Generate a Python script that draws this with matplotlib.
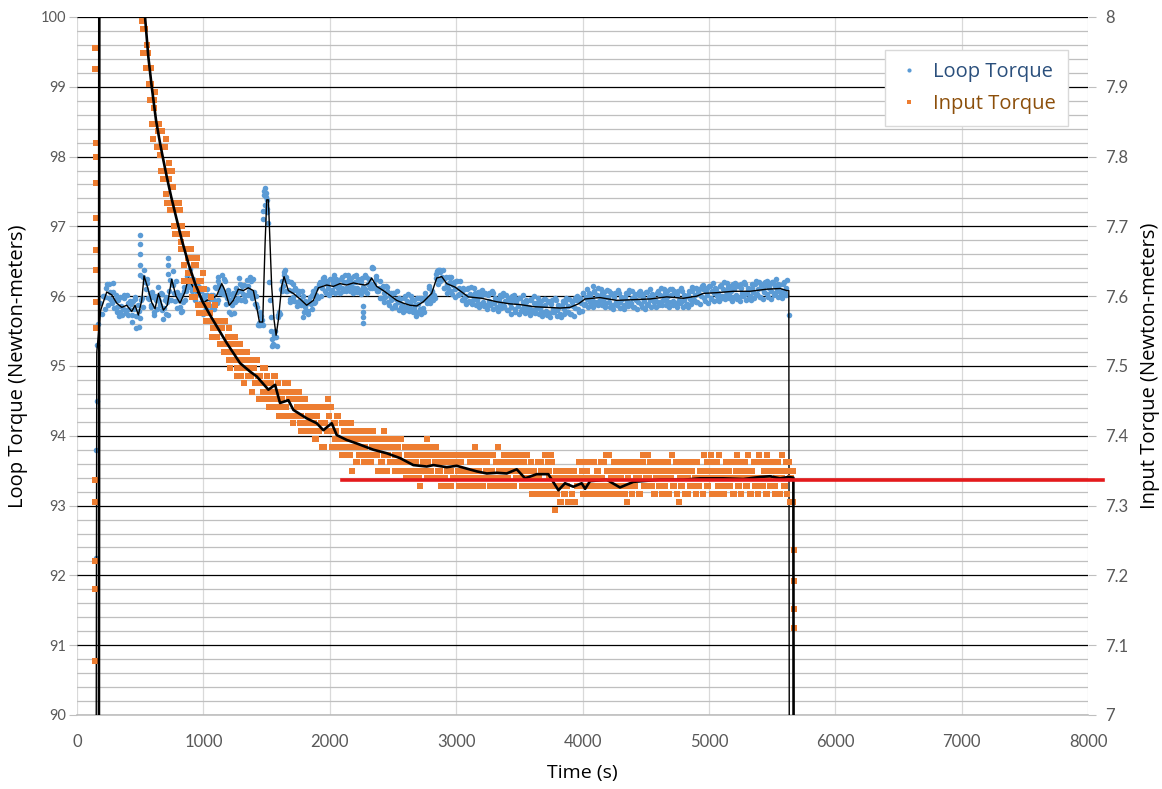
import numpy as np
import matplotlib
matplotlib.use("Agg")
import matplotlib.pyplot as plt
from matplotlib.lines import Line2D
from matplotlib.ticker import MultipleLocator, FuncFormatter
from matplotlib import font_manager

# ---- data --------------------------------------------------------------
# Loop torque samples (N-m, left axis), 12.5 s apart; a second interleaved
# set starts 6.25 s later.
loop_start = 200.0
loop_start2 = 206.25
loop_step = 12.5
loop_vals = [
    95.75, 96.00, 95.99, 96.17, 95.98, 96.06, 95.90, 96.06, 95.95, 95.85,
    95.95, 95.77, 95.86, 95.81, 95.98, 95.76, 95.90, 95.82, 95.89, 95.73,
    95.82, 95.96, 95.71, 95.79, 95.69, 95.97, 96.28, 96.20, 96.19, 95.98,
    96.04, 95.87, 95.99, 95.73, 95.94, 95.96, 95.93, 96.05, 95.80, 95.83,
    95.74, 95.92, 95.95, 96.23, 96.17, 96.16, 95.93, 96.06, 95.94, 95.85,
    96.02, 95.91, 96.07, 96.08, 96.34, 96.13, 96.24, 96.14, 96.20, 96.02,
    96.04, 96.13, 95.90, 95.98, 95.77, 95.94, 96.01, 95.89, 95.96, 95.86,
    96.02, 95.94, 96.12, 95.95, 96.16, 96.13, 96.08, 96.24, 96.02, 95.98,
    95.78, 95.94, 95.88, 96.05, 95.92, 96.06, 95.97, 96.17, 96.08, 96.03,
    96.16, 96.01, 96.14, 96.07, 96.22, 95.98, 96.06, 95.89, 95.84, 95.58,
    95.58, 95.66, 97.22, 97.55, 97.38, 97.05, 95.95, 95.50, 95.32, 95.42,
    95.42, 95.70, 95.77, 96.10, 96.07, 96.31, 96.28, 96.07, 96.09, 95.96,
    96.08, 95.99, 96.11, 95.92, 96.03, 95.94, 95.87, 96.00, 95.85, 95.89,
    95.79, 95.93, 95.89, 96.02, 95.90, 96.02, 95.98, 96.18, 96.14, 96.11,
    96.21, 96.08, 96.17, 96.12, 96.25, 96.06, 96.19, 96.15, 96.24, 96.12,
    96.15, 96.25, 96.11, 96.21, 96.07, 96.20, 96.24, 96.14, 96.19, 96.11,
    96.21, 96.12, 96.25, 96.09, 96.21, 96.13, 96.10, 96.27, 96.17, 96.24,
    96.17, 96.40, 96.18, 96.24, 96.07, 96.12, 95.98, 96.12, 96.05, 95.99,
    96.07, 95.92, 96.00, 95.94, 96.05, 95.85, 95.96, 95.91, 95.98, 95.85,
    95.88, 95.98, 95.84, 95.93, 95.79, 95.90, 95.94, 95.83, 95.87, 95.78,
    95.89, 95.81, 95.97, 95.83, 95.99, 95.95, 95.94, 96.12, 96.00, 96.06,
    96.02, 96.26, 96.25, 96.37, 96.22, 96.27, 96.12, 96.26, 96.18, 96.12,
    96.21, 96.07, 96.16, 96.10, 96.22, 96.01, 96.11, 96.05, 96.11, 95.98,
    96.00, 96.10, 95.93, 96.03, 95.89, 96.00, 96.04, 95.94, 95.99, 95.89,
    96.00, 95.92, 96.05, 95.88, 96.01, 95.93, 95.89, 96.04, 95.90, 95.95,
    95.84, 95.96, 95.90, 96.00, 95.85, 95.93, 95.80, 95.96, 95.90, 95.85,
    95.95, 95.82, 95.91, 95.86, 95.98, 95.79, 95.91, 95.87, 95.95, 95.82,
    95.84, 95.94, 95.80, 95.90, 95.76, 95.88, 95.91, 95.81, 95.86, 95.77,
    95.87, 95.79, 95.93, 95.76, 95.89, 95.82, 95.78, 95.94, 95.80, 95.85,
    95.75, 95.87, 95.81, 95.92, 95.78, 95.86, 95.74, 95.91, 95.86, 95.83,
    95.94, 95.82, 95.93, 95.90, 96.05, 95.87, 95.99, 95.96, 96.04, 95.92,
    95.96, 96.06, 95.92, 96.02, 95.88, 96.00, 96.04, 95.94, 95.99, 95.90,
    95.99, 95.91, 96.04, 95.87, 95.99, 95.92, 95.88, 96.04, 95.91, 95.96,
    95.87, 95.99, 95.93, 96.04, 95.89, 95.97, 95.85, 96.01, 95.95, 95.91,
    96.02, 95.89, 95.98, 95.93, 96.06, 95.87, 95.99, 95.95, 96.03, 95.91,
    95.95, 96.05, 95.91, 96.02, 95.88, 96.00, 96.05, 95.95, 96.00, 95.91,
    96.01, 95.93, 96.07, 95.90, 96.02, 95.95, 95.91, 96.07, 95.94, 95.99,
    95.89, 96.02, 95.96, 96.08, 95.94, 96.02, 95.91, 96.08, 96.03, 96.00,
    96.10, 95.97, 96.07, 96.02, 96.15, 95.96, 96.08, 96.04, 96.12, 96.00,
    96.04, 96.14, 96.00, 96.10, 95.96, 96.08, 96.13, 96.03, 96.08, 95.99,
    96.10, 96.02, 96.16, 95.99, 96.12, 96.05, 96.01, 96.17, 96.04, 96.09,
    96.00, 96.12, 96.06, 96.17, 96.02, 96.10, 95.99, 96.16, 96.10, 96.06,
    96.16, 96.03, 96.12, 96.08, 96.21, 96.02, 96.14, 96.10, 96.18, 96.06,
    96.08, 96.18, 96.04, 96.12,
]
loop_vals2 = [
    96.00, 95.81, 96.11, 95.88, 96.17, 95.95, 96.19, 95.83, 96.01, 95.78,
    95.72, 95.99, 95.73, 96.02, 95.80, 96.02, 95.73, 95.93, 95.63, 95.93,
    95.99, 95.72, 95.88, 95.56, 95.94, 95.85, 96.37, 96.10, 96.24, 95.96,
    95.84, 96.06, 95.77, 96.00, 95.82, 96.13, 95.88, 96.03, 95.67, 95.94,
    95.99, 95.73, 96.07, 95.94, 96.36, 96.05, 96.22, 95.83, 96.00, 95.78,
    95.79, 96.13, 95.94, 96.29, 96.16, 96.39, 96.07, 96.25, 95.94, 96.22,
    96.21, 95.89, 96.07, 95.75, 96.02, 95.82, 96.10, 95.79, 96.01, 95.84,
    95.82, 96.13, 95.90, 96.22, 96.04, 96.30, 96.03, 96.22, 95.89, 96.09,
    96.03, 95.75, 96.00, 95.76, 96.11, 95.95, 96.26, 95.94, 96.14, 95.96,
    95.93, 96.23, 96.01, 96.28, 96.04, 96.24, 95.89, 96.00, 95.58, 95.78,
    95.65, 97.10, 97.50, 97.42, 97.25, 96.20, 95.70, 95.38, 95.30, 95.50,
    95.28, 95.73, 95.74, 96.22, 96.14, 96.38, 96.07, 96.22, 95.91, 96.20,
    96.17, 95.93, 96.09, 95.86, 96.08, 95.89, 96.07, 95.78, 95.93, 95.77,
    95.74, 95.99, 95.82, 96.07, 95.91, 96.12, 95.98, 96.20, 96.00, 96.26,
    96.27, 96.04, 96.22, 96.01, 96.25, 96.09, 96.30, 96.04, 96.21, 96.06,
    96.04, 96.27, 96.08, 96.31, 96.12, 96.30, 96.08, 96.26, 96.04, 96.29,
    96.30, 96.06, 96.23, 96.03, 96.26, 96.08, 96.30, 96.05, 96.25, 96.12,
    96.12, 96.40, 96.11, 96.29, 96.08, 96.22, 95.98, 96.14, 95.91, 96.14,
    96.13, 95.88, 96.05, 95.83, 96.05, 95.87, 96.07, 95.80, 95.96, 95.80,
    95.77, 96.00, 95.80, 96.03, 95.83, 96.00, 95.77, 95.95, 95.72, 95.97,
    95.98, 95.75, 95.95, 95.77, 96.04, 95.90, 96.14, 95.90, 96.08, 95.94,
    95.97, 96.32, 96.18, 96.38, 96.23, 96.37, 96.12, 96.28, 96.04, 96.27,
    96.27, 96.03, 96.21, 95.99, 96.22, 96.03, 96.22, 95.94, 96.09, 95.93,
    95.89, 96.11, 95.91, 96.13, 95.94, 96.11, 95.88, 96.06, 95.84, 96.08,
    96.09, 95.86, 96.03, 95.82, 96.05, 95.88, 96.08, 95.82, 95.98, 95.83,
    95.79, 96.02, 95.83, 96.05, 95.86, 96.02, 95.80, 95.98, 95.75, 96.00,
    96.01, 95.78, 95.96, 95.75, 95.98, 95.81, 96.02, 95.76, 95.92, 95.77,
    95.73, 95.96, 95.77, 96.00, 95.81, 95.97, 95.75, 95.93, 95.71, 95.96,
    95.96, 95.73, 95.91, 95.70, 95.94, 95.77, 95.97, 95.71, 95.88, 95.73,
    95.70, 95.93, 95.74, 95.97, 95.78, 95.96, 95.74, 95.93, 95.72, 95.98,
    96.00, 95.78, 95.98, 95.79, 96.05, 95.89, 96.10, 95.85, 96.02, 95.87,
    95.85, 96.08, 95.89, 96.12, 95.93, 96.10, 95.88, 96.06, 95.84, 96.09,
    96.08, 95.85, 96.03, 95.82, 96.05, 95.88, 96.09, 95.83, 95.99, 95.84,
    95.82, 96.05, 95.86, 96.09, 95.90, 96.07, 95.85, 96.03, 95.81, 96.06,
    96.08, 95.85, 96.03, 95.82, 96.06, 95.89, 96.10, 95.84, 96.01, 95.86,
    95.84, 96.07, 95.88, 96.12, 95.93, 96.10, 95.88, 96.07, 95.85, 96.10,
    96.10, 95.87, 96.05, 95.84, 96.07, 95.90, 96.11, 95.85, 96.02, 95.87,
    95.84, 96.08, 95.89, 96.13, 95.95, 96.12, 95.91, 96.10, 95.89, 96.15,
    96.16, 95.93, 96.11, 95.90, 96.14, 95.98, 96.19, 95.93, 96.10, 95.95,
    95.93, 96.16, 95.97, 96.20, 96.01, 96.19, 95.97, 96.15, 95.93, 96.18,
    96.19, 95.96, 96.14, 95.93, 96.17, 96.00, 96.21, 95.95, 96.12, 95.97,
    95.94, 96.17, 95.98, 96.22, 96.03, 96.21, 95.99, 96.18, 95.96, 96.21,
    96.22, 95.99, 96.17, 95.96, 96.21, 96.04, 96.25, 95.99, 96.16, 96.01,
    95.98, 96.20, 96.01, 96.23,
]
# stray loop samples (start-up ramp, spikes, outliers)
loop_extra_t = [150, 152, 155, 158, 165, 180, 470, 498, 498, 500, 502, 500,
                720, 722, 720, 1117, 1440, 1455, 1468, 1480, 1490, 1495, 1505,
                1545, 1555, 1640, 1790, 2263, 2263, 2265, 2263, 2330, 2845,
                2855, 2870, 4080, 5630]
loop_extra_v = [93.80, 92.25, 94.50, 95.30, 95.60, 95.90, 95.55, 96.30, 96.45,
                96.60, 96.75, 96.88, 96.32, 96.45, 96.55, 96.28, 95.62, 95.72,
                95.58, 97.45, 97.30, 97.48, 97.20, 95.28, 95.45, 96.35, 95.70,
                95.62, 95.70, 95.78, 95.86, 96.42, 96.36, 96.38, 96.35, 96.14,
                95.73]

# Input torque samples (N-m, right axis), 12.5 s apart from t = 525 s,
# plus an interleaved set starting at 531.25 s
input_start = 525.0
input_start2 = 531.25
input_step = 12.5
input_vals = [
    7.949, 7.983, 7.927, 7.949, 7.881, 7.904, 7.825, 7.881, 7.847, 7.814,
    7.847, 7.780, 7.814, 7.780, 7.825, 7.734, 7.768, 7.723, 7.780, 7.723,
    7.689, 7.734, 7.689, 7.723, 7.667, 7.689, 7.622, 7.689, 7.655, 7.622,
    7.667, 7.599, 7.644, 7.610, 7.655, 7.576, 7.610, 7.576, 7.633, 7.576,
    7.565, 7.588, 7.576, 7.599, 7.554, 7.565, 7.542, 7.565, 7.554, 7.531,
    7.554, 7.520, 7.531, 7.520, 7.554, 7.497, 7.531, 7.520, 7.542, 7.497,
    7.508, 7.531, 7.486, 7.508, 7.475, 7.497, 7.508, 7.486, 7.486, 7.463,
    7.497, 7.475, 7.508, 7.452, 7.486, 7.475, 7.463, 7.497, 7.452, 7.463,
    7.441, 7.475, 7.463, 7.486, 7.452, 7.452, 7.429, 7.463, 7.452, 7.441,
    7.463, 7.429, 7.452, 7.429, 7.463, 7.418, 7.452, 7.441, 7.463, 7.418,
    7.429, 7.452, 7.418, 7.441, 7.407, 7.418, 7.429, 7.407, 7.418, 7.396,
    7.429, 7.407, 7.441, 7.384, 7.418, 7.418, 7.407, 7.441, 7.407, 7.407,
    7.384, 7.418, 7.407, 7.429, 7.384, 7.396, 7.373, 7.407, 7.396, 7.384,
    7.407, 7.373, 7.396, 7.384, 7.407, 7.362, 7.396, 7.384, 7.407, 7.373,
    7.384, 7.407, 7.373, 7.396, 7.362, 7.373, 7.396, 7.373, 7.373, 7.350,
    7.384, 7.362, 7.396, 7.350, 7.384, 7.373, 7.362, 7.396, 7.362, 7.373,
    7.350, 7.384, 7.373, 7.396, 7.350, 7.362, 7.339, 7.373, 7.362, 7.350,
    7.373, 7.339, 7.362, 7.350, 7.384, 7.328, 7.373, 7.362, 7.373, 7.350,
    7.362, 7.384, 7.350, 7.373, 7.339, 7.362, 7.373, 7.339, 7.350, 7.328,
    7.362, 7.339, 7.373, 7.328, 7.362, 7.350, 7.339, 7.373, 7.339, 7.350,
    7.328, 7.362, 7.350, 7.373, 7.339, 7.350, 7.328, 7.362, 7.350, 7.339,
    7.362, 7.328, 7.350, 7.339, 7.373, 7.328, 7.362, 7.350, 7.373, 7.339,
    7.350, 7.373, 7.339, 7.362, 7.328, 7.350, 7.362, 7.339, 7.350, 7.328,
    7.362, 7.339, 7.373, 7.328, 7.362, 7.350, 7.339, 7.373, 7.339, 7.350,
    7.328, 7.362, 7.350, 7.373, 7.339, 7.339, 7.316, 7.350, 7.339, 7.328,
    7.362, 7.316, 7.350, 7.328, 7.373, 7.316, 7.362, 7.339, 7.373, 7.328,
    7.328, 7.350, 7.316, 7.339, 7.305, 7.328, 7.339, 7.316, 7.328, 7.305,
    7.339, 7.316, 7.350, 7.305, 7.339, 7.339, 7.328, 7.362, 7.328, 7.339,
    7.316, 7.350, 7.339, 7.362, 7.328, 7.339, 7.316, 7.350, 7.339, 7.328,
    7.339, 7.362, 7.328, 7.373, 7.316, 7.350, 7.339, 7.328, 7.362, 7.316,
    7.350, 7.316, 7.339, 7.328, 7.362, 7.316, 7.350, 7.339, 7.362, 7.328,
    7.350, 7.328, 7.339, 7.362, 7.316, 7.350, 7.373, 7.328, 7.339, 7.350,
    7.339, 7.362, 7.328, 7.350, 7.316, 7.339, 7.350, 7.328, 7.339, 7.316,
    7.328, 7.350, 7.362, 7.316, 7.339, 7.350, 7.328, 7.362, 7.350, 7.305,
    7.350, 7.328, 7.362, 7.316, 7.350, 7.339, 7.328, 7.362, 7.328, 7.339,
    7.362, 7.339, 7.328, 7.350, 7.316, 7.373, 7.339, 7.328, 7.350, 7.362,
    7.316, 7.350, 7.339, 7.362, 7.328, 7.339, 7.316, 7.350, 7.339, 7.328,
    7.350, 7.328, 7.339, 7.362, 7.316, 7.350, 7.373, 7.328, 7.339, 7.350,
    7.339, 7.362, 7.328, 7.373, 7.316, 7.350, 7.339, 7.328, 7.362, 7.316,
    7.362, 7.339, 7.328, 7.350, 7.316, 7.373, 7.339, 7.328, 7.350, 7.362,
    7.328, 7.350, 7.362, 7.316, 7.339, 7.350, 7.328, 7.362, 7.350, 7.305,
    7.339, 7.350,
]
input_vals2 = [
    7.983, 7.927, 7.960, 7.904, 7.927, 7.847, 7.870, 7.893, 7.814, 7.836,
    7.802, 7.836, 7.768, 7.814, 7.746, 7.780, 7.791, 7.734, 7.757, 7.701,
    7.723, 7.689, 7.734, 7.678, 7.701, 7.644, 7.667, 7.689, 7.633, 7.655,
    7.622, 7.655, 7.599, 7.644, 7.588, 7.622, 7.622, 7.588, 7.610, 7.565,
    7.588, 7.565, 7.599, 7.542, 7.565, 7.588, 7.542, 7.565, 7.531, 7.565,
    7.531, 7.565, 7.531, 7.542, 7.508, 7.542, 7.508, 7.531, 7.531, 7.486,
    7.520, 7.497, 7.520, 7.475, 7.497, 7.520, 7.486, 7.497, 7.463, 7.508,
    7.475, 7.508, 7.486, 7.486, 7.452, 7.497, 7.463, 7.475, 7.486, 7.441,
    7.475, 7.452, 7.486, 7.441, 7.463, 7.475, 7.441, 7.463, 7.429, 7.475,
    7.441, 7.475, 7.452, 7.452, 7.418, 7.463, 7.429, 7.452, 7.463, 7.407,
    7.441, 7.418, 7.452, 7.407, 7.429, 7.441, 7.407, 7.429, 7.396, 7.441,
    7.407, 7.441, 7.418, 7.418, 7.384, 7.441, 7.407, 7.429, 7.441, 7.384,
    7.418, 7.396, 7.429, 7.384, 7.396, 7.418, 7.384, 7.407, 7.373, 7.418,
    7.384, 7.418, 7.396, 7.407, 7.362, 7.407, 7.373, 7.396, 7.407, 7.362,
    7.396, 7.373, 7.407, 7.362, 7.384, 7.407, 7.373, 7.384, 7.350, 7.396,
    7.362, 7.396, 7.373, 7.384, 7.350, 7.396, 7.362, 7.384, 7.396, 7.350,
    7.384, 7.362, 7.396, 7.350, 7.362, 7.384, 7.350, 7.373, 7.339, 7.384,
    7.350, 7.384, 7.362, 7.373, 7.339, 7.384, 7.350, 7.373, 7.384, 7.339,
    7.373, 7.350, 7.384, 7.339, 7.362, 7.384, 7.350, 7.362, 7.328, 7.373,
    7.339, 7.373, 7.350, 7.362, 7.328, 7.373, 7.339, 7.362, 7.373, 7.328,
    7.362, 7.339, 7.373, 7.328, 7.350, 7.373, 7.339, 7.362, 7.328, 7.373,
    7.339, 7.373, 7.350, 7.362, 7.328, 7.373, 7.339, 7.362, 7.373, 7.328,
    7.350, 7.373, 7.328, 7.362, 7.384, 7.339, 7.362, 7.328, 7.373, 7.350,
    7.339, 7.373, 7.350, 7.362, 7.328, 7.373, 7.339, 7.362, 7.373, 7.328,
    7.362, 7.339, 7.373, 7.328, 7.350, 7.362, 7.328, 7.350, 7.316, 7.362,
    7.339, 7.362, 7.316, 7.350, 7.373, 7.328, 7.350, 7.316, 7.362, 7.339,
    7.316, 7.350, 7.328, 7.339, 7.305, 7.350, 7.316, 7.339, 7.350, 7.305,
    7.339, 7.316, 7.350, 7.305, 7.328, 7.362, 7.328, 7.350, 7.316, 7.362,
    7.350, 7.328, 7.362, 7.316, 7.339, 7.362, 7.328, 7.350, 7.316, 7.362,
    7.339, 7.362, 7.316, 7.350, 7.373, 7.328, 7.350, 7.316, 7.362, 7.339,
    7.328, 7.362, 7.339, 7.350, 7.316, 7.362, 7.328, 7.350, 7.362, 7.316,
    7.362, 7.328, 7.350, 7.339, 7.316, 7.350, 7.362, 7.328, 7.339, 7.373,
    7.350, 7.328, 7.362, 7.316, 7.339, 7.362, 7.328, 7.350, 7.316, 7.362,
    7.339, 7.362, 7.316, 7.350, 7.373, 7.328, 7.350, 7.316, 7.362, 7.339,
    7.328, 7.362, 7.339, 7.350, 7.316, 7.362, 7.328, 7.350, 7.362, 7.316,
    7.362, 7.328, 7.350, 7.339, 7.316, 7.350, 7.362, 7.328, 7.339, 7.373,
    7.339, 7.362, 7.316, 7.350, 7.373, 7.328, 7.350, 7.316, 7.362, 7.339,
    7.350, 7.328, 7.362, 7.316, 7.339, 7.362, 7.328, 7.350, 7.316, 7.362,
    7.362, 7.328, 7.350, 7.339, 7.316, 7.350, 7.362, 7.328, 7.339, 7.373,
    7.328, 7.362, 7.339, 7.350, 7.316, 7.362, 7.328, 7.350, 7.362, 7.316,
    7.339, 7.362, 7.316, 7.350, 7.373, 7.328, 7.350, 7.316, 7.362, 7.339,
    7.350,
]
input_extra_t = [143, 144, 144, 145, 146, 145, 146, 147, 147, 148, 148, 149,
                 149, 150, 150, 512, 518, 1672, 1987, 2173, 2430, 2767, 3150,
                 3782, 4349, 5668, 5670, 5672, 5674, 5676]
input_extra_v = [7.077, 7.180, 7.220, 7.305, 7.337, 7.955, 7.926, 7.819, 7.800,
                 7.762, 7.712, 7.666, 7.638, 7.592, 7.554, 7.994, 7.983, 7.475,
                 7.452, 7.350, 7.407, 7.396, 7.384, 7.294, 7.305, 7.305, 7.237,
                 7.192, 7.152, 7.125]

# black moving-average traces
loop_avg_t = [148, 156, 187, 235, 274, 314, 354, 393, 433, 459, 485, 512, 530,
              556, 591, 617, 644, 683, 714, 749, 783, 815, 854, 881, 915, 960,
              1000, 1026, 1066, 1105, 1145, 1171, 1205, 1237, 1276, 1316, 1355,
              1395, 1421, 1443, 1469, 1488, 1501, 1514, 1527, 1540, 1559, 1575,
              1593, 1619, 1638, 1672, 1711, 1764, 1817, 1870, 1910, 1976, 2028,
              2081, 2134, 2187, 2239, 2279, 2305, 2331, 2371, 2424, 2477, 2529,
              2582, 2635, 2688, 2740, 2806, 2846, 2886, 2925, 2991, 3096, 3202,
              3321, 3426, 3505, 3611, 3716, 3822, 3901, 3967, 4020, 4138, 4270,
              4402, 4534, 4666, 4797, 4903, 4956, 5061, 5193, 5325, 5457, 5563,
              5616, 5632, 5638]
loop_avg_v = [85.0, 95.20, 95.80, 96.06, 96.02, 95.90, 95.84, 95.87, 95.78,
              95.87, 95.73, 95.94, 96.29, 96.14, 95.91, 95.82, 96.04, 95.80,
              95.87, 96.24, 96.00, 95.90, 96.06, 96.26, 96.14, 96.04, 95.90,
              95.94, 95.96, 96.01, 96.18, 96.08, 95.87, 95.94, 96.10, 96.08,
              96.12, 96.08, 95.85, 95.63, 95.63, 96.76, 97.38, 97.38, 96.76,
              96.14, 95.66, 95.44, 95.66, 96.14, 96.28, 96.08, 96.04, 95.96,
              95.87, 95.94, 96.12, 96.16, 96.14, 96.18, 96.16, 96.19, 96.17,
              96.16, 96.18, 96.26, 96.14, 96.08, 96.01, 95.94, 95.90, 95.87,
              95.86, 95.92, 96.04, 96.26, 96.28, 96.18, 96.13, 95.99, 95.97,
              95.92, 95.89, 95.88, 95.85, 95.84, 95.83, 95.84, 95.89, 95.96,
              95.98, 95.94, 95.95, 95.96, 95.99, 95.97, 96.00, 96.04, 96.05,
              96.07, 96.07, 96.10, 96.11, 96.08, 96.08, 85.0]

input_avg_t = [170, 178, 300, 450, 538, 564, 591, 625, 657, 683, 710, 744, 783,
               828, 881, 934, 994, 1052, 1118, 1184, 1250, 1290, 1369, 1422,
               1514, 1567, 1606, 1672, 1712, 1817, 1896, 1949, 2015, 2055, 2134,
               2213, 2345, 2450, 2556, 2661, 2767, 2820, 2925, 3004, 3083, 3163,
               3242, 3321, 3400, 3479, 3545, 3637, 3729, 3809, 3861, 3927, 3993,
               4020, 4059, 4191, 4296, 4402, 4613, 4797, 4929, 5114, 5272, 5404,
               5483, 5563, 5629, 5668, 5674]
input_avg_v = [6.0, 8.6, 8.9, 8.4, 8.000, 7.943, 7.900, 7.852, 7.819, 7.795,
               7.771, 7.743, 7.714, 7.681, 7.647, 7.618, 7.592, 7.573, 7.553,
               7.533, 7.515, 7.504, 7.492, 7.485, 7.466, 7.473, 7.447, 7.451,
               7.437, 7.425, 7.418, 7.408, 7.418, 7.401, 7.394, 7.389, 7.380,
               7.375, 7.368, 7.358, 7.356, 7.358, 7.355, 7.357, 7.353, 7.349,
               7.346, 7.347, 7.346, 7.352, 7.339, 7.345, 7.345, 7.322, 7.332,
               7.327, 7.332, 7.324, 7.335, 7.337, 7.326, 7.334, 7.337, 7.337,
               7.339, 7.339, 7.338, 7.341, 7.342, 7.339, 7.341, 7.340, 6.0]

# red steady-state reference line (right axis)
ref_t = [2100, 8120]
ref_v = [7.337, 7.337]

# ---- fonts ---------------------------------------------------------------
available = {f.name for f in font_manager.fontManager.ttflist}


def pick(*names):
    return next((n for n in names if n in available), "DejaVu Sans")


tick_font = pick("Lato", "Open Sans")
label_font = pick("Open Sans", "Lato")

BLUE = "#5B9BD5"
ORANGE = "#ED7D31"
GRID_MINOR = "#BFBFBF"
GRID_V = "#D9D9D9"
TICK_TXT = "#595959"

# ---- figure --------------------------------------------------------------
fig = plt.figure(figsize=(11.62, 7.89), dpi=100)
ax = fig.add_axes([0.0663, 0.0938, 0.8701, 0.8847])
ax2 = ax.twinx()

loop_t = loop_start + loop_step * np.arange(len(loop_vals))
loop_t2 = loop_start2 + loop_step * np.arange(len(loop_vals2))
input_t = input_start + input_step * np.arange(len(input_vals))
input_t2 = input_start2 + input_step * np.arange(len(input_vals2))

blue_style = dict(ls="none", marker="o", ms=4.0, mew=0, color=BLUE, zorder=2)
orange_style = dict(ls="none", marker="s", ms=3.8, mew=0, color=ORANGE,
                    zorder=2)

ax.plot(loop_t, loop_vals, **blue_style)
ax.plot(loop_t2, loop_vals2, **blue_style)
ax.plot(loop_extra_t, loop_extra_v, **blue_style)
ax.plot(loop_avg_t, loop_avg_v, color="black", lw=1.0, zorder=3)

ax2.plot(input_t, input_vals, **orange_style)
ax2.plot(input_t2, input_vals2, **orange_style)
ax2.plot(input_extra_t, input_extra_v, **orange_style)
ax2.plot(input_avg_t, input_avg_v, color="black", lw=1.9, zorder=3)
ax2.plot(ref_t, ref_v, color="#E41A1C", lw=2.6, zorder=4, clip_on=False)

# axes limits / ticks
ax.set_xlim(0, 8000)
ax.set_ylim(90, 100)
ax2.set_ylim(7, 8)
ax.set_xticks(np.arange(0, 8001, 1000))
ax.set_yticks(np.arange(90, 101, 1))
ax.yaxis.set_minor_locator(MultipleLocator(0.2))
ax2.set_yticks(np.arange(7, 8.001, 0.1))
ax2.yaxis.set_major_formatter(FuncFormatter(lambda v, p: f"{round(v, 1):g}"))

ax.set_axisbelow(True)
ax.grid(which="major", axis="y", color="black", lw=0.9)
ax.grid(which="minor", axis="y", color=GRID_MINOR, lw=0.9)
ax.grid(which="major", axis="x", color=GRID_V, lw=0.9)

for s in ("top", "left", "right"):
    ax.spines[s].set_visible(False)
ax.spines["bottom"].set_color(GRID_MINOR)
ax.spines["bottom"].set_linewidth(1.2)
for s in ax2.spines.values():
    s.set_visible(False)

ax.tick_params(axis="x", length=0, pad=14, labelcolor=TICK_TXT, labelsize=12)
ax.tick_params(axis="y", which="major", length=6, color=GRID_MINOR,
               labelcolor=TICK_TXT, labelsize=10.5, pad=2)
ax.tick_params(axis="y", which="minor", length=0)
ax2.tick_params(axis="y", length=6, color=GRID_MINOR, labelcolor=TICK_TXT,
                labelsize=12, pad=6)
for lab in ax.get_xticklabels() + ax.get_yticklabels() + ax2.get_yticklabels():
    lab.set_fontfamily(tick_font)

ax.set_xlabel("Time (s)", fontsize=14, family=label_font, labelpad=10)
ax.set_ylabel("Loop Torque (Newton-meters)", fontsize=14.5, family=label_font,
              labelpad=9)
ax2.set_ylabel("Input Torque (Newton-meters)", fontsize=14.5,
               family=label_font, labelpad=9)

# legend
handles = [
    Line2D([], [], ls="none", marker="o", ms=3, mew=0, color=BLUE),
    Line2D([], [], ls="none", marker="s", ms=3, mew=0, color=ORANGE),
]
leg = ax2.legend(handles, ["Loop Torque", "Input Torque"], loc="upper right",
                 bbox_to_anchor=(0.980, 0.953), borderaxespad=0, frameon=True,
                 fancybox=False, edgecolor=GRID_V, framealpha=1, borderpad=0.6,
                 labelspacing=0.6, handlelength=1.2, handletextpad=0.6,
                 prop={"family": label_font, "size": 14.5})
leg.get_frame().set_linewidth(1.0)
leg.get_texts()[0].set_color("#2A4F7C")
leg.get_texts()[1].set_color("#8C4F0A")

fig.savefig("out.png", dpi=100)
